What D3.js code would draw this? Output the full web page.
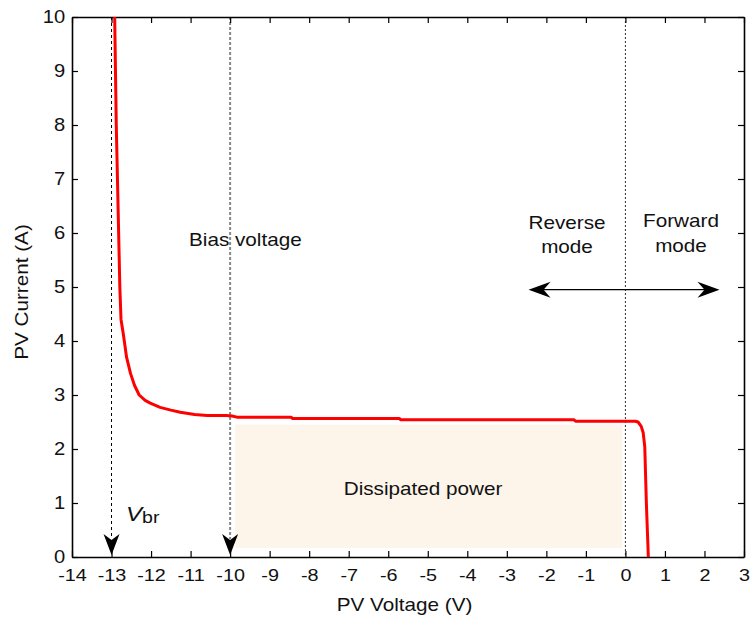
<!DOCTYPE html>
<html>
<head>
<meta charset="utf-8">
<script src="https://d3js.org/d3.v7.min.js"></script>
<style>
html, body { margin: 0; padding: 0; background: #fff; }
text { font-family: 'Liberation Sans', Arial, sans-serif; fill: #111; }
.axis path, .axis line { stroke: #000; }
</style>
</head>
<body>
<script>
// I-V curve of the PV cell
var voltage = [-12.92, -12.9, -12.88, -12.85, -12.82, -12.79, -12.76, -12.70, -12.62, -12.52, -12.42, -12.30, -12.15, -12.02, -11.77, -11.5, -11.26, -10.9, -10.58, -10.1, -9.95, -9.83, -8.46, -8.42, -5.72, -5.68, -1.30, -1.26, 0.25, 0.32, 0.40, 0.45, 0.49, 0.53, 0.58];
var current = [10, 9, 8, 7, 6, 5, 4.4, 4.12, 3.7, 3.4, 3.18, 3.0, 2.9, 2.85, 2.77, 2.72, 2.68, 2.64, 2.62, 2.62, 2.61, 2.59, 2.59, 2.565, 2.565, 2.54, 2.54, 2.515, 2.515, 2.5, 2.42, 2.3, 2.04, 1.0, 0];

// shaded "dissipated power" region [v0, v1, i0, i1]
var powerBox = [-9.87, -0.08, 0.17, 2.45];

var xTicks = d3.range(-14, 4);
var yTicks = d3.range(0, 11);

var width = 753, height = 619;
var margin = { top: 17, right: 9, bottom: 62, left: 72 };
var w = width - margin.left - margin.right;
var h = height - margin.top - margin.bottom;

// the reference type is a slightly wide Arial, so stretch text a bit
var stretch = 1.15;

var svg = d3.select("body").append("svg")
    .attr("width", width)
    .attr("height", height);

var g = svg.append("g")
    .attr("transform", "translate(" + margin.left + "," + margin.top + ")");

var x = d3.scaleLinear().domain([-14, 3]).range([0, w]);
var y = d3.scaleLinear().domain([0, 10]).range([h, 0]);

// dissipated power area
g.append("rect")
    .attr("x", x(powerBox[0]))
    .attr("y", y(powerBox[3]))
    .attr("width", x(powerBox[1]) - x(powerBox[0]))
    .attr("height", y(powerBox[2]) - y(powerBox[3]))
    .attr("fill", "#fdf5ea");

// vertical guide lines
g.append("line")
    .attr("x1", x(-13)).attr("x2", x(-13))
    .attr("y1", 0).attr("y2", h - 18)
    .attr("stroke", "#000").attr("stroke-width", 1)
    .attr("stroke-dasharray", "3,3");
g.append("line")
    .attr("x1", x(-10)).attr("x2", x(-10))
    .attr("y1", 0).attr("y2", h - 18)
    .attr("stroke", "#888").attr("stroke-width", 2)
    .attr("stroke-dasharray", "3,2");
g.append("line")
    .attr("x1", x(0)).attr("x2", x(0))
    .attr("y1", 0).attr("y2", h)
    .attr("stroke", "#333").attr("stroke-width", 1)
    .attr("stroke-dasharray", "2,2");

// axes with inside ticks on all four sides
function styleAxis(size, sx) {
    return function(sel) {
        sel.selectAll("path").attr("stroke-width", 1.6);
        sel.selectAll("line").attr("stroke-width", 1.2);
        sel.selectAll("text")
            .style("font-size", size + "px")
            .attr("fill", "#111")
            .attr("transform", "scale(" + sx + ",1)");
    };
}
var fmt = function(d) { return String(d); };
g.append("g").attr("class", "axis")
    .attr("transform", "translate(0," + h + ")")
    .call(d3.axisBottom(x).tickValues(xTicks).tickFormat(fmt).tickSizeInner(-6).tickSizeOuter(0).tickPadding(12))
    .call(styleAxis(16.5, 1.2));
g.append("g").attr("class", "axis")
    .call(d3.axisTop(x).tickValues(xTicks).tickSizeInner(-6).tickSizeOuter(0).tickFormat(""))
    .call(styleAxis(16, 1));
g.append("g").attr("class", "axis")
    .call(d3.axisLeft(y).tickValues(yTicks).tickFormat(fmt).tickSizeInner(-6).tickSizeOuter(0).tickPadding(6))
    .call(styleAxis(18, 1.12));
g.append("g").attr("class", "axis")
    .attr("transform", "translate(" + w + ",0)")
    .call(d3.axisRight(y).tickValues(yTicks).tickSizeInner(-6).tickSizeOuter(0).tickFormat(""))
    .call(styleAxis(16, 1));

// the I-V curve
var pts = voltage.map(function(v, i) { return [v, current[i]]; });
g.append("path")
    .datum(pts)
    .attr("fill", "none")
    .attr("stroke", "#ff0000")
    .attr("stroke-width", 3)
    .attr("stroke-linejoin", "round")
    .attr("d", d3.line()
        .x(function(d) { return x(d[0]); })
        .y(function(d) { return y(d[1]); }));

// down arrows on the axis
function downArrow(px, tipY) {
    g.append("path")
        .attr("d", "M" + px + "," + tipY + "L" + (px - 8) + "," + (tipY - 21) +
            "L" + px + "," + (tipY - 15) + "L" + (px + 8) + "," + (tipY - 21) + "Z")
        .attr("fill", "#000");
}
downArrow(x(-13), h - 2);
downArrow(x(-10), h - 2);

// double arrow between reverse and forward mode
var ay = y(4.95);
var ax0 = x(-2.45), ax1 = x(2.38);
g.append("line")
    .attr("x1", ax0 + 10).attr("x2", ax1 - 10)
    .attr("y1", ay).attr("y2", ay)
    .attr("stroke", "#000").attr("stroke-width", 1.2);
g.append("path")
    .attr("d", "M" + ax0 + "," + ay + "L" + (ax0 + 22) + "," + (ay - 8) +
        "L" + (ax0 + 15) + "," + ay + "L" + (ax0 + 22) + "," + (ay + 8) + "Z")
    .attr("fill", "#000");
g.append("path")
    .attr("d", "M" + ax1 + "," + ay + "L" + (ax1 - 22) + "," + (ay - 8) +
        "L" + (ax1 - 15) + "," + ay + "L" + (ax1 - 22) + "," + (ay + 8) + "Z")
    .attr("fill", "#000");

// annotations
function note(tx, ty, str, anchor) {
    return svg.append("text")
        .attr("transform", "translate(" + tx + "," + ty + ") scale(" + stretch + ",1)")
        .attr("text-anchor", anchor || "middle")
        .style("font-size", "18px")
        .text(str);
}
note(189, 246, "Bias voltage", "start");
note(567, 229, "Reverse");
note(567, 253, "mode");
note(681, 227, "Forward");
note(681, 252, "mode");
note(423, 495, "Dissipated power");

var vbr = svg.append("text")
    .attr("transform", "translate(126,521) scale(" + stretch + ",1)")
    .style("font-size", "21px");
vbr.append("tspan").style("font-style", "italic").text("V");
vbr.append("tspan").attr("dy", 2).style("font-size", "17px").text("br");

// axis titles
svg.append("text")
    .attr("transform", "translate(404.5,611) scale(" + stretch + ",1)")
    .attr("text-anchor", "middle")
    .style("font-size", "18px")
    .text("PV Voltage (V)");

svg.append("text")
    .attr("transform", "translate(28,292) rotate(-90) scale(" + stretch + ",1)")
    .attr("text-anchor", "middle")
    .style("font-size", "18px")
    .text("PV Current (A)");
</script>
</body>
</html>
